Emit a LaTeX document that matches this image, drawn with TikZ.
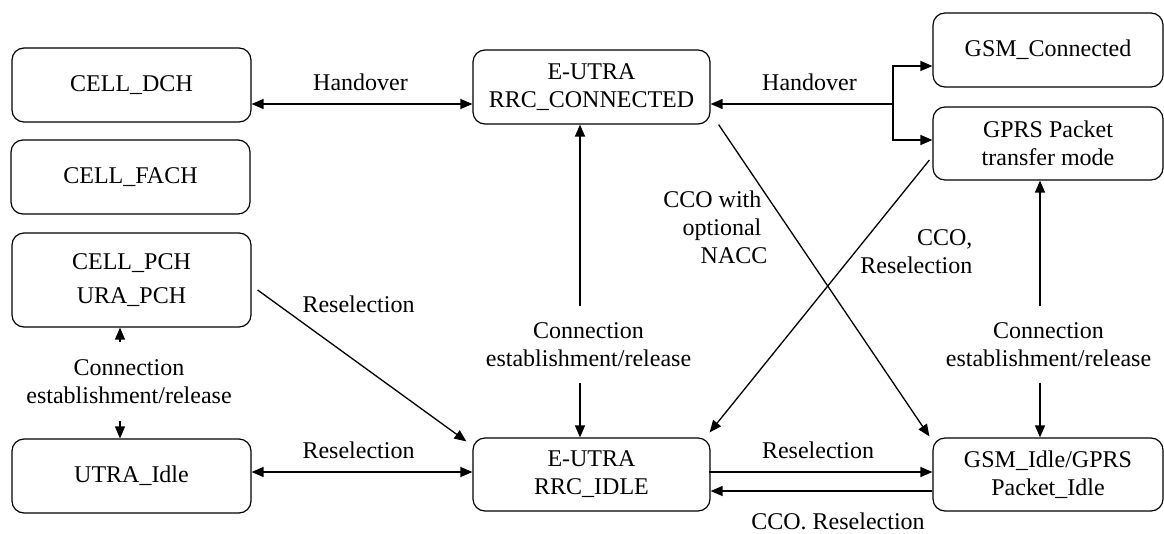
\documentclass[tikz,border=0pt]{standalone}
\usepackage{fontspec}
\setmainfont{LiberationSerif}[Extension=.ttf, UprightFont=*-Regular, BoldFont=*-Bold, ItalicFont=*-Italic, BoldItalicFont=*-BoldItalic]
\usetikzlibrary{arrows.meta,calc}
\begin{document}
\begin{tikzpicture}[x=1pt,y=-1pt,
  >={Triangle[length=12pt,width=10pt]},
  state/.style={draw, line width=1.2pt, rounded corners=12pt, align=center, inner sep=0pt,
    font=\fontsize{24}{28}\selectfont},
  lab/.style={align=center, inner sep=0pt, font=\fontsize{24}{28}\selectfont},
  celab/.style={lab, minimum height=75pt},
  every path/.style={line width=1.3pt}]
\useasboundingbox (0,0) rectangle (1164,533);

% states
\node[state, minimum width=239pt, minimum height=74pt] (dch)  at (131.5,85)  {CELL\_DCH};
\node[state, minimum width=239pt, minimum height=74pt] (fach) at (130.5,177) {CELL\_FACH};
\node[state, minimum width=239pt, minimum height=94pt] (pch)  at (131.5,280) {CELL\_PCH\\[6pt]URA\_PCH};
\node[state, minimum width=239pt, minimum height=74pt] (utra) at (131.5,476) {UTRA\_Idle};
\node[state, minimum width=237pt, minimum height=74pt] (conn) at (591.5,87)  {E-UTRA\\RRC\_CONNECTED};
\node[state, minimum width=237pt, minimum height=73pt] (idle) at (591.5,474.5) {E-UTRA\\RRC\_IDLE};
\node[state, minimum width=230pt, minimum height=74pt] (gsmc) at (1048,50)   {GSM\_Connected};
\node[state, minimum width=230pt, minimum height=73pt] (gprs) at (1048,143.5) {GPRS Packet\\transfer mode};
\node[state, minimum width=230pt, minimum height=73pt] (gsmi) at (1048,474.5) {GSM\_Idle/GPRS\\Packet\_Idle};

% labels
\node[lab, anchor=base] (h1) at (360.5,90) {Handover};
\node[lab, anchor=base] (h2) at (809.5,90) {Handover};
\node[celab] (c1) at (588.5,344.5) {Connection\\establishment/release};
\node[celab] (c3) at (1048.5,344.5) {Connection\\establishment/release};
\node[celab, minimum height=77pt] (c2) at (129,381.5) {Connection\\establishment/release};
\node[lab, anchor=base] (r1) at (358.5,312) {Reselection};
\node[lab, anchor=base] (r2) at (358.5,458) {Reselection};
\node[lab, anchor=base] (r3) at (818,458) {Reselection};
\node[lab, anchor=base] (r4) at (838,529) {CCO. Reselection};
\node[lab, align=right, anchor=north east] (nacc) at (762,190.6) {CCO with\\optional\\NACC\hspace*{-6pt}};
\node[lab, align=right, anchor=north east] (ccor) at (973,229.1) {CCO,\\Reselection};

% helper coordinates
\coordinate (jn) at (893,104);
\coordinate (vx) at (580,0);
\coordinate (gx) at (1040,0);
\coordinate (ux) at (120,0);

% connectors
\draw[<->] ([yshift=-19pt]dch.east) -- ([yshift=-19pt]dch.east -| conn.west);
\draw[->] (jn) -- (jn -| conn.east);
\draw[->] (jn) |- ([yshift=-16pt]gsmc.west);
\draw[->] (jn) |- ([yshift=3.5pt]gprs.west);

\draw[->] (vx |- c1.north) -- (vx |- conn.south);
\draw[->] (vx |- c1.south) -- (vx |- idle.north);
\draw[->] (gx |- c3.north) -- (gx |- gprs.south);
\draw[->] (gx |- c3.south) -- (gx |- gsmi.north);
\draw[->] (ux |- c2.north) -- (ux |- pch.south);
\draw[->] (ux |- c2.south) -- (ux |- utra.north);

\draw[->] ([xshift=6pt,yshift=-10pt]pch.east) -- ([xshift=-6pt,yshift=-4pt]idle.north west);
\draw[<->] ([yshift=4pt]utra.east) -- ([yshift=4pt]utra.east -| idle.west);
\draw[->] ([xshift=-2pt,yshift=2.5pt]idle.east) -- ([yshift=2.5pt]idle.east -| gsmi.west);
\draw[->] ([yshift=-16.5pt]gsmi.west) -- ([yshift=-16.5pt]gsmi.west -| idle.east);

\draw[->] ([xshift=8pt]conn.south east) -- ([xshift=-3pt,yshift=1pt]gsmi.north west);
\draw[->] ([xshift=-3pt,yshift=-16.5pt]gprs.west) -- ([xshift=-1pt,yshift=5pt]idle.north east);
\end{tikzpicture}
\end{document}
